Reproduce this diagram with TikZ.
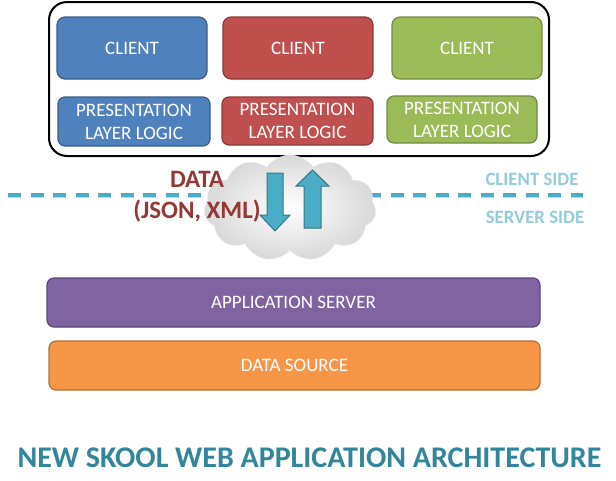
\documentclass[tikz,border=0pt]{standalone}
\usepackage{fontspec}
\setmainfont{Carlito}
\usepackage{tikz}
\usetikzlibrary{shapes.symbols}

\definecolor{blueFill}{HTML}{4F81BD}
\definecolor{blueLine}{HTML}{385D8A}
\definecolor{redFill}{HTML}{C0504D}
\definecolor{redLine}{HTML}{8C3836}
\definecolor{greenFill}{HTML}{9BBB59}
\definecolor{greenLine}{HTML}{71893F}
\definecolor{purpleFill}{HTML}{8064A2}
\definecolor{purpleLine}{HTML}{5C4776}
\definecolor{orangeFill}{HTML}{F79646}
\definecolor{orangeLine}{HTML}{B66D31}
\definecolor{sideLine}{HTML}{4BACC6}
\definecolor{sideText}{HTML}{92CDDC}
\definecolor{dataText}{HTML}{953735}
\definecolor{titleText}{HTML}{31859C}

\tikzset{
  box/.style={draw, line width=1.2pt, rounded corners=8pt, text=white,
    align=center, inner sep=0pt, font=\fontsize{19}{23}\selectfont},
  client/.style={box, minimum width=150pt, minimum height=62pt},
  presbox/.style={box, minimum width=151pt, minimum height=48pt, rounded corners=7pt},
  layer/.style={box, minimum height=49pt, rounded corners=7pt}
}

\begin{document}
\begin{tikzpicture}[x=1pt, y=-1pt]
        \useasboundingbox (0,0) rectangle (616,480);

        % Draw the client frame
        \draw[black, line width=2pt, rounded corners=18pt] (49,2) rectangle (549,156);

        % Clients
        \node[client, fill=blueFill, draw=blueLine] (clientA) at (132,48) {CLIENT};
        \node[client, fill=redFill, draw=redLine] (clientB) at (298,48) {CLIENT};
        \node[client, fill=greenFill, draw=greenLine] (clientC) at (467,48) {CLIENT};

        % Presentation layer logic
        \node[presbox, fill=blueFill, draw=blueLine, minimum width=152pt, minimum height=49pt] (presA) at (134,121.5) {PRESENTATION\\LAYER LOGIC};
        \node[presbox, fill=redFill, draw=redLine] (presB) at (297.5,121) {PRESENTATION\\LAYER LOGIC};
        \node[presbox, fill=greenFill, draw=greenLine, minimum width=150pt, minimum height=47pt] (presC) at (462,119.5) {PRESENTATION\\LAYER LOGIC};

        % Draw the border between client and server
        \draw[gray!60, opacity=0.6, line width=3.5pt, dash pattern=on 13pt off 9.5pt] (8,196.5) -- (583,196.5);
        \draw[sideLine, line width=3.5pt, dash pattern=on 13pt off 9.5pt] (8,195) -- (583,195);

        % The cloud
        \node[cloud, cloud puffs=11, cloud puff arc=110, aspect=1.6, minimum width=172pt, minimum height=106pt,
              draw=gray!15, inner color=white, outer color=gray!30] (net) at (290,208) {};

        % Labels for the sides
        \node[text=sideText, font=\bfseries\fontsize{18.8}{22}\selectfont] (clientSide) at (532,179) {CLIENT SIDE};
        \node[text=sideText, font=\bfseries\fontsize{18.8}{22}\selectfont] (serverSide) at (535,217) {SERVER SIDE};

        % The data
        \node[text=dataText, align=center, font=\bfseries\fontsize{25}{31}\selectfont] (data) at (197,197) {DATA\\(JSON, XML)};

        % Draw the arrows
        %down
        \draw[fill=sideLine, draw=sideLine!70!black, line width=1pt]
          (267,173) -- (283,173) -- (283,215) -- (290,215) -- (275,231) -- (260,215) -- (267,215) -- cycle;
        %up
        \draw[fill=sideLine, draw=sideLine!70!black, line width=1pt]
          (304,228) -- (321,228) -- (321,186) -- (329,186) -- (312.5,170) -- (296,186) -- (304,186) -- cycle;

        % Server side layers
        \node[layer, fill=purpleFill, draw=purpleLine, minimum width=493pt] (appServer) at (293.5,302.5) {APPLICATION SERVER};
        \node[layer, fill=orangeFill, draw=orangeLine, minimum width=491pt] (dataSource) at (294.5,365.5) {DATA SOURCE};

        % Title
        \node[text=titleText, font=\bfseries\fontsize{30}{34}\selectfont] (title) at (309.5,458) {NEW SKOOL WEB APPLICATION ARCHITECTURE};
    \end{tikzpicture}
\end{document}
